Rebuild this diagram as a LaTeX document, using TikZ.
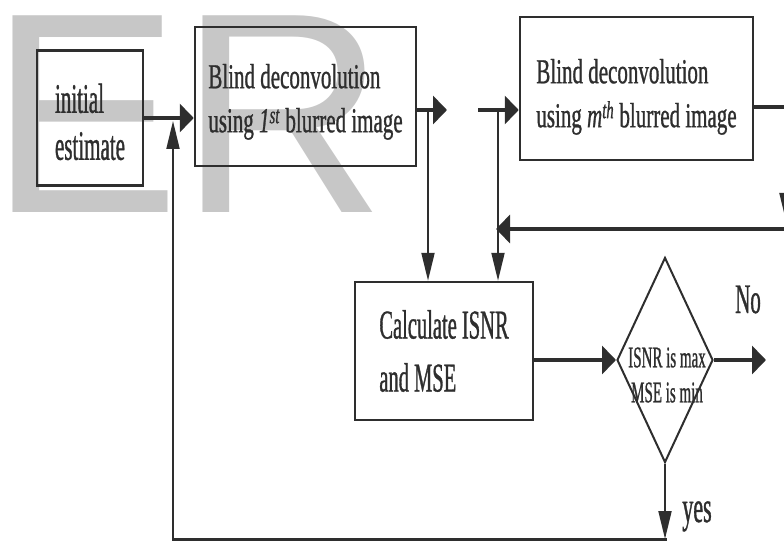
\documentclass[tikz,border=0pt]{standalone}
\usepackage{fontspec}
\setmainfont{Liberation Serif}
\newfontfamily\narrowserif{Liberation Serif}[FakeStretch=0.5, FakeBold=0.8]
\newfontfamily\blindserif{Liberation Serif}[FakeStretch=0.6, FakeBold=0.8]
\newfontfamily\markfont{Liberation Sans}
\usepackage{xcolor}
\usepackage{tikz}
\usetikzlibrary{shapes.geometric,arrows.meta,positioning,calc}
\definecolor{ink}{gray}{0.18}

\begin{document}
\begin{tikzpicture}[x=1pt, y=-1pt,
    process/.style={rectangle, draw=ink, line width=2.5pt, align=left, text=ink, inner sep=0pt},
    decision/.style={diamond, draw=ink, line width=2pt, inner sep=0pt, minimum width=96pt, minimum height=205pt},
    hline/.style={draw=ink, line width=3.5pt, -{Triangle[length=14pt,width=28pt]}},
    vline/.style={draw=ink, line width=2pt, -{Triangle[length=28pt,width=13pt]}},
    tag/.style={text=ink, inner sep=0pt, font=\narrowserif\fontsize{42}{42}\selectfont}]

    \useasboundingbox (0,0) rectangle (784,548);
    \clip (0,0) rectangle (784,548);

    % Watermark behind everything
    \node [anchor=base west, inner sep=0pt, text=black!22, font=\markfont\fontsize{286}{286}\selectfont] (mark) at (-11,212) {ER};

    % Top row: estimate and deconvolution steps
    \node [process, minimum width=106pt, minimum height=135pt, font=\narrowserif\fontsize{42}{47}\selectfont] (init) at (90,118) {\rule{0pt}{37pt}initial\\estimate};
    \node [process, minimum width=221pt, minimum height=139pt, font=\blindserif\fontsize{35}{44}\selectfont] (blind1) at (305.5,96.5) {\rule{0pt}{35pt}Blind deconvolution\\using \textit{1}\textsuperscript{\textit{st}} blurred image};
    \node [process, minimum width=233pt, minimum height=143pt, font=\blindserif\fontsize{35}{44}\selectfont] (blindm) at (636.5,88.5) {\rule{0pt}{41pt}Blind deconvolution\\using \textit{m}\textsuperscript{\textit{th}} blurred image};

    % Middle row: measures and test
    \node [process, minimum width=178pt, minimum height=138pt, font=\narrowserif\fontsize{41}{53}\selectfont] (calc) at (444,351) {Calculate ISNR\\and MSE};
    \node [decision] (check) at (665,360) {};
    \node [text=ink, inner sep=0pt, align=center, font=\narrowserif\fontsize{30}{35}\selectfont] (checktxt) at (667,375) {ISNR is max\\MSE is min};

    % Labels
    \node [tag, anchor=base] (no) at (748,313) {No};
    \node [tag, anchor=base, font=\narrowserif\fontsize{44}{44}\selectfont] (yes) at (697,522) {yes};

    % Turning points
    \coordinate (tap1) at (428,110);
    \coordinate (out1) at (447,110);
    \coordinate (in2) at (478,110);
    \coordinate (tap2) at (498,110);
    \coordinate (mout) at (786,107);
    \coordinate (drop) at (786,221);
    \coordinate (ret) at (792,229);
    \coordinate (noend) at (766,360);
    \coordinate (yesend) at (665,539);
    \coordinate (back) at (173,539);
    \coordinate (backtip) at (173,121);

    % Connectors
    \draw [hline] (init.east) -- (blind1.west |- init.east);
    \draw [hline] (blind1.east |- out1) -- (out1);
    \draw [vline] (tap1) -- (tap1 |- calc.north);
    \draw [hline] (in2) -- (blindm.west |- in2);
    \draw [vline] (tap2) -- (tap2 |- calc.north);
    \draw [draw=ink, line width=3.5pt] (blindm.east |- mout) -- (mout);
    \draw [vline] (mout) -- (drop);
    \draw [hline, shorten >=-2pt] (ret) -- (tap2 |- ret);
    \draw [hline] (calc.east |- check.west) -- (check.west);
    \draw [hline] (check.east) -- (noend);
    \draw [vline] (check.south) -- (yesend);
    \draw [draw=ink, line width=3pt, line cap=rect] (yesend) -- (back);
    \draw [vline] (back) -- (backtip);
\end{tikzpicture}
\end{document}
